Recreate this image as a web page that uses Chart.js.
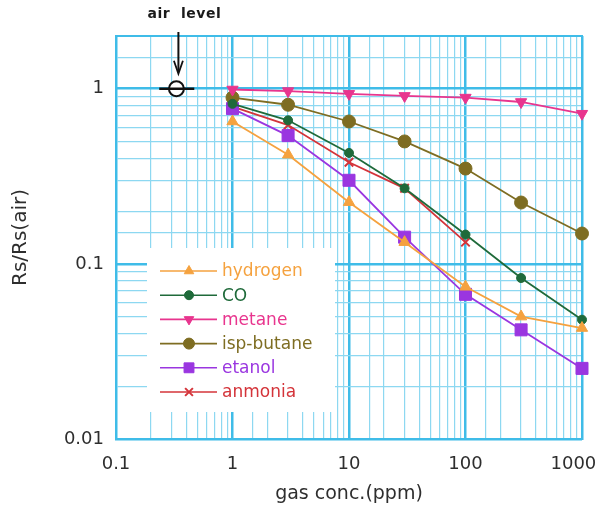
<!DOCTYPE html>
<html><head><meta charset="utf-8">
<script src="https://cdn.jsdelivr.net/npm/chart.js@4/dist/chart.umd.min.js"></script>
<style>html,body{margin:0;padding:0;background:#fff;overflow:hidden}</style>
</head><body>
<canvas id="c" width="598" height="506"></canvas>
<script>
// ---- data ----
const concentrations = [1, 3, 10, 30, 100, 300, 1000];
const hydrogen  = [0.65, 0.42, 0.225, 0.133, 0.074, 0.050, 0.043];
const co        = [0.82, 0.66, 0.43, 0.27, 0.147, 0.083, 0.048];
const metane    = [0.99, 0.97, 0.935, 0.91, 0.89, 0.84, 0.72];
const ispButane = [0.89, 0.81, 0.65, 0.50, 0.35, 0.224, 0.149];
const etanol    = [0.77, 0.54, 0.30, 0.142, 0.067, 0.042, 0.0253];
const anmonia   = [0.79, 0.62, 0.38, 0.27, 0.133];
const seriesNames = ['hydrogen', 'CO', 'metane', 'isp-butane', 'etanol', 'anmonia'];
const xTickValues = [0.1, 1, 10, 100, 1000];
const xTickLabels = ['0.1', '1', '10', '100', '1000'];
const yTickValues = [0.01, 0.1, 1];
const yTickLabels = ['0.01', '0.1', '1'];
const airLevelX = [0.33];
const airLevelY = [1];
const airBarX = [0.235, 0.47];
const xTitle = 'gas conc.(ppm)';
const yTitle = 'Rs/Rs(air)';
const airLabel = 'air  level';

// ---- styles ----
const styles = [
  {color: '#f5a23f', pointStyle: 'triangle', radius: 6.5, rotation: 0},
  {color: '#1f6a3a', pointStyle: 'circle', radius: 4.5, rotation: 0},
  {color: '#e8358e', pointStyle: 'triangle', radius: 6.5, rotation: 180},
  {color: '#7e6d22', pointStyle: 'circle', radius: 6.5, rotation: 0},
  {color: '#9a36e0', pointStyle: 'rect', radius: 8.5, rotation: 0},
  {color: '#d4343a', pointStyle: 'crossRot', radius: 6, rotation: 0}
];
const seriesValues = [hydrogen, co, metane, ispButane, etanol, anmonia];

const MAJOR = '#3fbce8';
const MINOR = '#8dd8f1';
const FONT = "'DejaVu Sans', sans-serif";

function isDecade(v) {
  const l = Math.log10(v);
  return Math.abs(l - Math.round(l)) < 1e-6;
}
function labelFor(v, values, labels) {
  for (let i = 0; i < values.length; i++) {
    if (Math.abs(v - values[i]) / values[i] < 1e-6) return labels[i];
  }
  return '';
}

const datasets = seriesValues.map((arr, i) => ({
  label: seriesNames[i],
  data: arr.map((y, j) => ({x: concentrations[j], y})),
  borderColor: styles[i].color,
  backgroundColor: styles[i].color,
  pointBackgroundColor: styles[i].color,
  pointBorderColor: styles[i].color,
  pointStyle: styles[i].pointStyle,
  pointRadius: styles[i].radius,
  pointRotation: styles[i].rotation,
  pointBorderWidth: styles[i].pointStyle === 'crossRot' ? 2 : 1,
  borderWidth: 1.8,
  tension: 0,
  fill: false,
  clip: false
}));
datasets.push({
  label: '_airbar',
  data: airBarX.map(x => ({x, y: airLevelY[0]})),
  borderColor: '#111', borderWidth: 2.5, pointRadius: 0, fill: false
});
datasets.push({
  label: '_airpoint',
  data: airLevelX.map((x, i) => ({x, y: airLevelY[i]})),
  showLine: false,
  pointStyle: 'circle', pointRadius: 7.5,
  pointBackgroundColor: '#fff', pointBorderColor: '#111', pointBorderWidth: 2,
  borderColor: '#111'
});

const decorPlugin = {
  id: 'decor',
  beforeDatasetsDraw(chart) {
    const {ctx, chartArea: a} = chart;
    ctx.save();
    // legend white box
    ctx.fillStyle = '#fff';
    ctx.fillRect(a.left + 31, a.top + 212, 188, (a.bottom - 27) - (a.top + 212));
    // frame
    ctx.strokeStyle = MAJOR;
    ctx.lineWidth = 2;
    ctx.strokeRect(a.left, a.top, a.right - a.left, a.bottom - a.top);
    ctx.restore();
  },
  afterDatasetsDraw(chart) {
    const {ctx, chartArea: a} = chart;
    ctx.save();
    // legend
    for (let i = 0; i < seriesNames.length; i++) {
      const y = a.top + 235 + i * 24.2;
      const st = styles[i];
      ctx.strokeStyle = st.color;
      ctx.lineWidth = 1.6;
      ctx.beginPath();
      ctx.moveTo(a.left + 44, y);
      ctx.lineTo(a.left + 101, y);
      ctx.stroke();
      ctx.fillStyle = st.color;
      ctx.strokeStyle = st.color;
      ctx.lineWidth = st.pointStyle === 'crossRot' ? 2 : 1;
      const r = st.pointStyle === 'rect' ? 7 : (st.pointStyle === 'circle' ? Math.min(st.radius, 5.5) : 5.5);
      Chart.helpers.drawPoint(ctx, {pointStyle: st.pointStyle, radius: r, rotation: st.rotation, borderWidth: ctx.lineWidth}, a.left + 73, y);
      ctx.fillStyle = st.color;
      ctx.font = '17px ' + FONT;
      ctx.textAlign = 'left';
      ctx.textBaseline = 'middle';
      ctx.fillText(seriesNames[i], a.left + 106, y + 1);
    }
    // air level arrow
    const xs = chart.scales.x, ys = chart.scales.y;
    const ax = xs.getPixelForValue(airLevelX[0]) + 2;
    const ay = ys.getPixelForValue(airLevelY[0]);
    const tip = ay - 15;
    ctx.strokeStyle = '#111';
    ctx.fillStyle = '#111';
    ctx.lineWidth = 2;
    ctx.beginPath();
    ctx.moveTo(ax, a.top - 4);
    ctx.lineTo(ax, tip - 2);
    ctx.stroke();
    ctx.beginPath();
    ctx.moveTo(ax - 4.5, tip - 13);
    ctx.lineTo(ax, tip);
    ctx.lineTo(ax + 4.5, tip - 13);
    ctx.lineWidth = 1.8;
    ctx.stroke();
    // air level text
    ctx.font = 'bold 14px ' + FONT;
    ctx.fillStyle = '#1a1a1a';
    ctx.textAlign = 'center';
    ctx.textBaseline = 'middle';
    try { ctx.letterSpacing = '0.5px'; } catch (e) {}
    ctx.fillText(airLabel, ax + 6, 14);
    ctx.restore();
  }
};

new Chart(document.getElementById('c'), {
  type: 'line',
  data: {datasets},
  plugins: [decorPlugin],
  options: {
    responsive: false,
    animation: false,
    devicePixelRatio: 1,
    layout: {padding: {top: 36, right: 16, left: 0, bottom: 0}},
    plugins: {legend: {display: false}, tooltip: {enabled: false}},
    scales: {
      x: {
        type: 'logarithmic', position: 'bottom', min: 0.1, max: 1000,
        afterFit(s) { s.height = 67; s.paddingLeft = 0; s.paddingRight = 0; },
        grid: {
          drawTicks: false,
          color: c => (c.tick && isDecade(c.tick.value)) ? MAJOR : MINOR,
          lineWidth: c => (c.tick && isDecade(c.tick.value)) ? 2.5 : 1.2
        },
        border: {display: true, color: MAJOR, width: 2},
        ticks: {
          autoSkip: false, maxRotation: 0, minRotation: 0, padding: 15,
          color: '#2e2e2e', font: {family: FONT, size: 18},
          callback: v => {
            const l = labelFor(v, xTickValues, xTickLabels);
            return (l && v === xTickValues[xTickValues.length - 1]) ? l + '\u2007 ' : l;
          }
        },
        title: {display: true, text: xTitle, color: '#2e2e2e', font: {family: FONT, size: 19}, padding: {top: 0, bottom: 1}}
      },
      y: {
        type: 'logarithmic', position: 'left', min: 0.01, max: 2,
        afterFit(s) { s.width = 116; s.paddingTop = 0; s.paddingBottom = 0; },
        grid: {
          drawTicks: false,
          color: c => (c.tick && isDecade(c.tick.value)) ? MAJOR : MINOR,
          lineWidth: c => (c.tick && isDecade(c.tick.value)) ? 2.5 : 1.2
        },
        border: {display: true, color: MAJOR, width: 2},
        ticks: {
          autoSkip: false, padding: 12,
          color: '#2e2e2e', font: {family: FONT, size: 18},
          callback: v => labelFor(v, yTickValues, yTickLabels)
        },
        title: {display: true, text: yTitle, color: '#2e2e2e', font: {family: FONT, size: 20}, padding: {top: 9, bottom: 0}}
      }
    }
  }
});
</script>
</body></html>
